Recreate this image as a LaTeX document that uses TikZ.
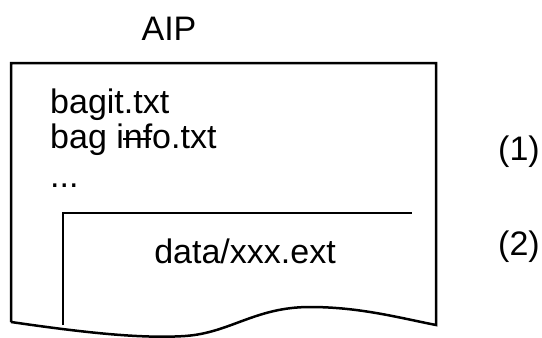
\documentclass[tikz,border=0pt]{standalone}
\usepackage{fontspec}
\setmainfont{Liberation Sans}
\begin{document}
\begin{tikzpicture}[x=1pt,y=-1pt,
  frame/.style={line width=2.5pt,line join=miter},
  label/.style={inner sep=0pt,anchor=base west,font=\fontsize{34}{39}\selectfont}]
\useasboundingbox (0,0) rectangle (542,338);
% outer document shape with wavy bottom edge
\draw[frame] (11,322) -- (11,63) -- (436,63) -- (436,325)
  .. controls (400,318) and (360,307) .. (310,307)
  .. controls (255,307) and (230,333) .. (185,336)
  .. controls (140,339) and (80,332) .. (11,322);
% inner payload frame
\coordinate (pbl) at (63,325);
\coordinate (ptl) at (63,213);
\coordinate (ptr) at (412,213);
\draw[frame] (pbl) -- (ptl) -- (ptr);
% texts
\node[label,anchor=base] (aip) at (169,40) {AIP};
\node[label] (bagit) at (50,113) {bagit.txt};
\node[label] (baginfo) at (50,148) {bag info.txt};
\node[label] (dots) at (50,187) {...};
\node[label,anchor=base] (data) at (245,263) {data/xxx.ext};
\node[label] (one) at (498,160) {(1)};
\node[label] (two) at (498,255) {(2)};
% stray hyphen drawn across "nf"
\draw[line width=2pt] ([xshift=73pt,yshift=9pt]baginfo.base west) -- ++(28,0);
\end{tikzpicture}
\end{document}
